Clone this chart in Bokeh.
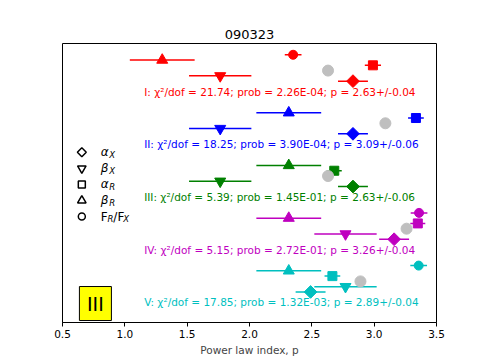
import numpy as np
from bokeh.plotting import figure
from bokeh.models import Range1d, FixedTicker, PrintfTickFormatter
from bokeh.core.properties import value
from bokeh.embed import file_html
from bokeh.resources import INLINE

nan = float("nan")
groups = ["I", "II", "III", "IV", "V"]
colors = ["#ff0000", "#0000ff", "#008000", "#bf00bf", "#00bfbf"]
alpha_x = [2.83, 2.83, 2.83, 3.16, 2.49]
alpha_x_err = [0.12, 0.12, 0.12, 0.12, 0.12]
beta_x = [1.765, 1.765, 1.765, 2.77, 2.77]
beta_x_err = [0.25, 0.25, 0.25, 0.25, 0.25]
alpha_r = [2.99, 3.335, 2.68, 3.35, 2.665]
alpha_r_err = [0.065, 0.063, 0.06, 0.06, 0.063]
beta_r = [1.30, 2.315, 2.315, 2.315, 2.315]
beta_r_err = [0.26, 0.26, 0.26, 0.26, 0.26]
ratio = [2.35, nan, nan, 3.36, 3.357]
ratio_err = [0.067, nan, nan, 0.067, 0.067]
chi2_dof = [21.74, 18.25, 5.39, 5.15, 17.85]
prob = [2.26e-04, 3.90e-04, 1.45e-01, 2.72e-01, 1.32e-03]
p_fit = [2.63, 3.09, 2.63, 3.26, 2.89]
p_err = [0.04, 0.06, 0.06, 0.04, 0.04]
x_ticks = [0.5, 1.0, 1.5, 2.0, 2.5, 3.0, 3.5]
box_label = "III"

FONT = "DejaVu Sans"
GROUP_STEP = 10
ROW = {"ratio": 0, "beta_r": 1, "alpha_r": 2, "fit": 3, "beta_x": 4, "alpha_x": 5, "text": 7}

p = figure(width=485, height=360, output_backend="svg", toolbar_location=None,
           x_range=Range1d(0.5, 3.5), y_range=Range1d(-50.8, 2.14),
           min_border_left=62, min_border_right=49, min_border_top=43, min_border_bottom=38)
p.title.text = "090323"
p.title.align = "center"
p.title.text_font = FONT
p.title.text_font_size = "13px"
p.title.text_font_style = "normal"
p.title.text_color = "black"
p.xgrid.visible = False
p.ygrid.visible = False
p.yaxis.visible = False
p.outline_line_color = "black"
p.outline_line_width = 1
p.xaxis.ticker = FixedTicker(ticks=x_ticks)
p.xaxis.formatter = PrintfTickFormatter(format="%.1f")
p.xaxis.minor_tick_line_color = None
p.xaxis.major_tick_out = 4
p.xaxis.major_tick_in = 0
p.xaxis.major_label_text_font = FONT
p.xaxis.major_label_text_font_size = "10.5px"
p.xaxis.major_label_text_color = "black"
p.xaxis.major_label_standoff = 3
p.xaxis.axis_label = "Power law index, p"
p.xaxis.axis_label_text_font = FONT
p.xaxis.axis_label_text_font_size = "10.5px"
p.xaxis.axis_label_text_font_style = "normal"
p.xaxis.axis_label_standoff = 3
p.xaxis.axis_line_color = "black"


def ypos(g, key):
    return -(GROUP_STEP * g + ROW[key])


series = [
    ("ratio", ratio, ratio_err, dict(marker="circle", size=9)),
    ("beta_r", beta_r, beta_r_err, dict(marker="triangle", size=11)),
    ("alpha_r", alpha_r, alpha_r_err, dict(marker="square", size=9)),
    ("beta_x", beta_x, beta_x_err, dict(marker="inverted_triangle", size=11)),
    ("alpha_x", alpha_x, alpha_x_err, dict(marker="square", size=9, angle=np.pi / 4)),
]

for g in range(len(groups)):
    c = colors[g]
    for key, vals, errs, style in series:
        v, e = vals[g], errs[g]
        if np.isnan(v):
            continue
        y = ypos(g, key)
        p.segment(x0=[v - e], y0=[y], x1=[v + e], y1=[y], line_color=c, line_width=1.5)
        p.scatter(x=[v], y=[y], fill_color=c, line_color=c, **style)
    p.scatter(x=[p_fit[g]], y=[ypos(g, "fit")], marker="circle", size=11,
              fill_color="#bfbfbf", line_color="#bfbfbf")
    txt = "%s: \u03c7\u00b2/dof = %.2f; prob = %.2E; p = %.2f+/-%.2f" % (
        groups[g], chi2_dof[g], prob[g], p_fit[g], p_err[g])
    p.text(x=[1.155], y=[ypos(g, "text")], text=[txt], text_color=c,
           text_font=value(FONT), text_font_size="10.5px",
           text_align="left", text_baseline="middle")

# legend (manual, for subscripts)
leg_x = 0.655
lab_x = 0.807
leg_y = [-18.5, -21.55, -24.6, -27.65, -30.7]
leg_markers = [dict(marker="square", size=6.3, angle=np.pi / 4),
               dict(marker="inverted_triangle", size=8.5),
               dict(marker="square", size=7),
               dict(marker="triangle", size=8.5),
               dict(marker="circle", size=7)]
big, small = "12px", "8.5px"
leg_labels = [[("\u03b1", 0, 0, big, "italic"), ("X", 8.5, 2.5, small, "italic")],
              [("\u03b2", 0, 0, big, "italic"), ("X", 8.5, 2.5, small, "italic")],
              [("\u03b1", 0, 0, big, "italic"), ("R", 8.5, 2.5, small, "italic")],
              [("\u03b2", 0, 0, big, "italic"), ("R", 8.5, 2.5, small, "italic")],
              [("F", 0, 0, big, "normal"), ("R", 6.8, 2.5, small, "italic"),
               ("/F", 12.6, 0, big, "normal"), ("X", 22.5, 2.5, small, "italic")]]
for yy, mk, parts in zip(leg_y, leg_markers, leg_labels):
    p.scatter(x=[leg_x], y=[yy], fill_color=None, line_color="black", line_width=1.5, **mk)
    for t, dx, dy, fs, st in parts:
        p.text(x=[lab_x], y=[yy], text=[t], x_offset=dx, y_offset=dy,
               text_color="black", text_font=value(FONT), text_font_size=fs,
               text_font_style=st, text_align="left", text_baseline="middle")

# yellow label box
p.rect(x=[0.764], y=[-47.2], width=32, height=34, width_units="screen", height_units="screen",
       fill_color="yellow", line_color="black", line_width=1)
p.text(x=[0.764], y=[-47.2], text=[box_label], text_color="black", text_font=value(FONT),
       text_font_size="19px", text_align="center", text_baseline="middle")

open("out.html", "w").write(file_html(p, INLINE))
